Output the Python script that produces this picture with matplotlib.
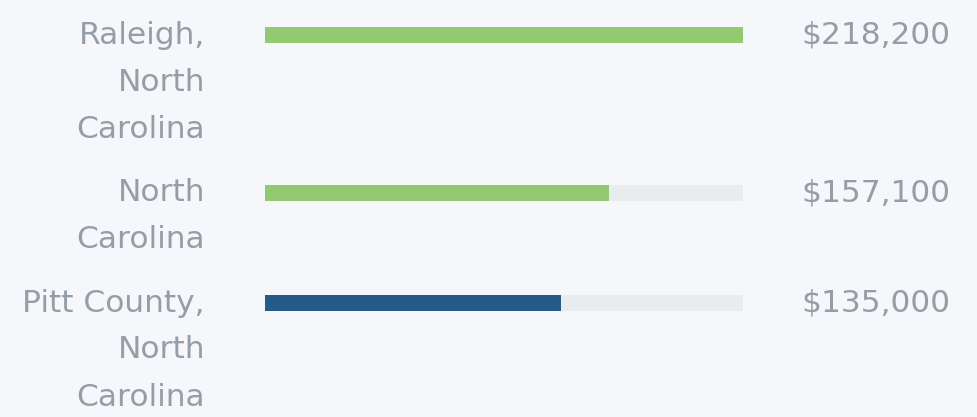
import matplotlib.pyplot as plt

# data
places = ["Raleigh,\nNorth\nCarolina", "North\nCarolina", "Pitt County,\nNorth\nCarolina"]
values = [218200, 157100, 135000]
value_labels = ["$218,200", "$157,100", "$135,000"]
colors = ["#93C96F", "#93C96F", "#255A8A"]

BG = "#F5F7FA"
TRACK = "#E9ECEF"
TEXT = "#959EA6"

W, H = 977, 417
fig = plt.figure(figsize=(W / 100, H / 100), dpi=100, facecolor=BG)
ax = fig.add_axes([0, 0, 1, 1])
ax.set_facecolor(BG)

vmax = max(values)
bar_left, bar_right = 265, 743
scale = vmax / (bar_right - bar_left)
ax.set_xlim(-bar_left * scale, (W - bar_left) * scale)
ax.set_ylim(H, 0)
ax.axis("off")

line_h = 47
y = 35
for name, v, lab, c in zip(places, values, value_labels, colors):
    ax.barh(y, vmax, height=16, color=TRACK, left=0)
    ax.barh(y, v, height=16, color=c, left=0)
    for i, line in enumerate(name.split("\n")):
        ax.text(205 / W, y + 8.5 + i * line_h, line, transform=ax.get_yaxis_transform(),
                ha="right", va="baseline", fontsize=22.5, color=TEXT)
    ax.text(950 / W, y + 8.5, lab.replace("$", r"\$"), transform=ax.get_yaxis_transform(),
            ha="right", va="baseline", fontsize=22.5, color=TEXT)
    y += name.count("\n") * line_h + line_h + 16.5

fig.savefig("out.png", dpi=100, facecolor=BG)
